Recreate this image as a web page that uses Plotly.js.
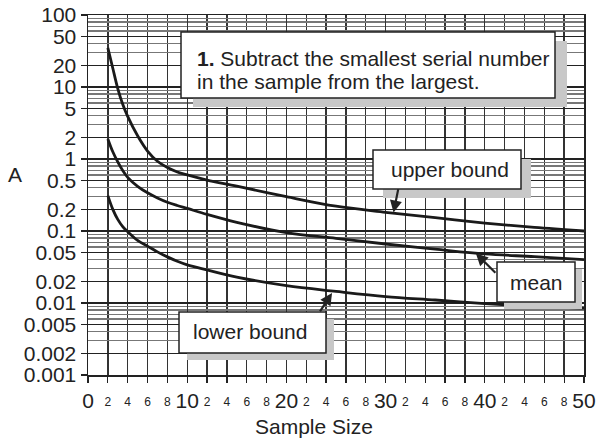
<!DOCTYPE html>
<html>
<head>
<meta charset="utf-8">
<script src="https://cdn.plot.ly/plotly-3.0.1.min.js"></script>
<style>
  html, body { margin: 0; padding: 0; background: #fff; }
  #chart { width: 596px; height: 445px; }
</style>
</head>
<body>
<div id="chart"></div>
<script>
// Sample sizes at which the three curves are read
const sampleSize = [2, 2.5, 3, 3.5, 4, 5, 6, 7, 8, 9, 10, 12, 15, 20, 25, 30, 35, 40, 45, 50];
const upperBound = [35, 18.2, 9.5, 5.75, 3.9, 2.1, 1.29, 0.93, 0.76, 0.66, 0.6, 0.51, 0.42, 0.30, 0.221, 0.182, 0.153, 0.129, 0.112, 0.1];
const meanValue  = [1.9, 1.26, 0.91, 0.69, 0.556, 0.417, 0.339, 0.288, 0.251, 0.226, 0.206, 0.17, 0.132, 0.095, 0.079, 0.066, 0.056, 0.048, 0.044, 0.04];
const lowerBound = [0.31, 0.2, 0.145, 0.115, 0.098, 0.074, 0.0617, 0.0513, 0.0437, 0.038, 0.0339, 0.0288, 0.0229, 0.0174, 0.0145, 0.0123, 0.011, 0.0098, 0.009, 0.0085];

// Axis ticks
const yTickVals = [0.001, 0.002, 0.005, 0.01, 0.02, 0.05, 0.1, 0.2, 0.5, 1, 2, 5, 10, 20, 50, 100];
const yTickText = ["0.001", "0.002", "0.005", "0.01", "0.02", "0.05", "0.1", "0.2", "0.5", "1", "2", "5", "10", "20", "50", "100"];
const yMinorVals = [0.003, 0.004, 0.006, 0.007, 0.008, 0.009,
                    0.03, 0.04, 0.06, 0.07, 0.08, 0.09,
                    0.3, 0.4, 0.6, 0.7, 0.8, 0.9,
                    3, 4, 6, 7, 8, 9,
                    30, 40, 60, 70, 80, 90];
const xMajorVals = [0, 10, 20, 30, 40, 50];
const xMajorText = ["0", "10", "20", "30", "40", "50"];
const xSmallVals = [2, 4, 6, 8, 12, 14, 16, 18, 22, 24, 26, 28, 32, 34, 36, 38, 42, 44, 46, 48];
const xSmallText = ["2", "4", "6", "8", "2", "4", "6", "8", "2", "4", "6", "8", "2", "4", "6", "8", "2", "4", "6", "8"];

// Where the callout arrows point
const upperArrow = { x: 30.8, y: 0.18 };
const meanArrow  = { x: 39.1, y: 0.049 };
const lowerArrow = { x: 24.6, y: 0.0138 };

const FONT = "Liberation Sans, Arial, Helvetica, sans-serif";
const INK = "#222";

// Plot area in pixels: left 88, right 584, top 15, bottom 375
const L = 88, R = 584, T = 15, B = 375;
const px = X => (X - L) / (R - L);
const py = Y => (B - Y) / (B - T);

function boxWithShadow(x0, y0, x1, y1, dx, dy) {
  return [
    { type: "rect", xref: "paper", yref: "paper", layer: "above",
      x0: px(x0 + dx), x1: px(x1 + dx), y0: py(y1 + dy), y1: py(y0 + dy),
      fillcolor: "#c8c8c8", line: { width: 0 } },
    { type: "rect", xref: "paper", yref: "paper", layer: "above",
      x0: px(x0), x1: px(x1), y0: py(y1), y1: py(y0),
      fillcolor: "#ffffff", line: { color: INK, width: 1.5 } }
  ];
}

const curveStyle = { color: "#1a1a1a", width: 2.8, shape: "spline", smoothing: 1 };
const traces = [upperBound, meanValue, lowerBound].map(vals => ({
  x: sampleSize, y: vals, type: "scatter", mode: "lines",
  line: curveStyle, hoverinfo: "skip", xaxis: "x", yaxis: "y"
}));
// Second x axis carries only the small in-between tick labels
traces.push({ x: [0, 50], y: [1, 1], type: "scatter", mode: "lines",
  line: { width: 0 }, opacity: 0, xaxis: "x2", yaxis: "y", hoverinfo: "skip" });

const shapes = [].concat(
  boxWithShadow(181, 32, 555, 98, 12, 9),
  boxWithShadow(373, 150, 521, 189, 10, 9),
  boxWithShadow(497, 262, 575, 302, 7, 7),
  boxWithShadow(179, 312, 326, 353, 8, 7)
);

function arrow(pt, ax, ay) {
  return { xref: "x", yref: "y", x: pt.x, y: Math.log10(pt.y), ax: ax, ay: ay,
    text: "", showarrow: true, arrowhead: 2, arrowsize: 1.1, arrowwidth: 2.2,
    arrowcolor: INK, standoff: 0 };
}

function label(text, X, Y, anchor) {
  return { xref: "paper", yref: "paper", x: px(X), y: py(Y), xanchor: anchor || "center",
    yanchor: "middle", showarrow: false, text: text,
    font: { family: FONT, size: 21, color: INK } };
}

const annotations = [
  label("<b>1.</b> Subtract the smallest serial number", 195, 58, "left"),
  label("in the sample from the largest.", 195, 81, "left"),
  label("upper bound", 449.5, 169),
  label("mean", 536, 282),
  label("lower bound", 250.3, 331),
  arrow(upperArrow, 5, -25),
  arrow(meanArrow, 21, 21),
  arrow(lowerArrow, -13, 20),
  label("A", 15, 174),
  label("Sample Size", 314, 426)
];

const layout = {
  width: 596, height: 445,
  margin: { l: L, r: 596 - R, t: T, b: 445 - B, pad: 0 },
  paper_bgcolor: "#fff", plot_bgcolor: "#fff",
  showlegend: false,
  font: { family: FONT, color: INK },
  xaxis: {
    range: [0, 50], tickmode: "array", tickvals: xMajorVals, ticktext: xMajorText,
    tickfont: { family: FONT, size: 21, color: INK },
    ticks: "outside", ticklen: 6, tickwidth: 1.3, tickcolor: INK, ticklabelstandoff: 0,
    showgrid: true, gridcolor: "#333", gridwidth: 1.4,
    minor: { tickmode: "array", tickvals: xSmallVals, ticks: "outside", ticklen: 6,
             tickwidth: 1.3, tickcolor: INK, showgrid: true, gridcolor: "#333", gridwidth: 1.4 },
    showline: true, linecolor: INK, linewidth: 1.5, mirror: true,
    zeroline: false, fixedrange: true
  },
  xaxis2: {
    overlaying: "x", matches: "x", anchor: "y", side: "bottom",
    tickmode: "array", tickvals: xSmallVals, ticktext: xSmallText,
    tickfont: { family: FONT, size: 12, color: INK },
    ticks: "", ticklen: 6, ticklabelstandoff: 18,
    showgrid: false, showline: false, zeroline: false, fixedrange: true
  },
  yaxis: {
    type: "log", range: [-3, 2],
    tickmode: "array", tickvals: yTickVals, ticktext: yTickText,
    tickfont: { family: FONT, size: 21, color: INK },
    ticks: "outside", ticklen: 6, tickwidth: 1.3, tickcolor: INK,
    showgrid: true, gridcolor: "#222", gridwidth: 1.4,
    minor: { tickmode: "array", tickvals: yMinorVals, ticks: "", showgrid: true,
             gridcolor: "#777", gridwidth: 1.1 },
    showline: true, linecolor: INK, linewidth: 1.5, mirror: true,
    zeroline: false, fixedrange: true
  },
  shapes: shapes,
  annotations: annotations
};

Plotly.newPlot("chart", traces, layout, { displayModeBar: false, staticPlot: true });
</script>
</body>
</html>
